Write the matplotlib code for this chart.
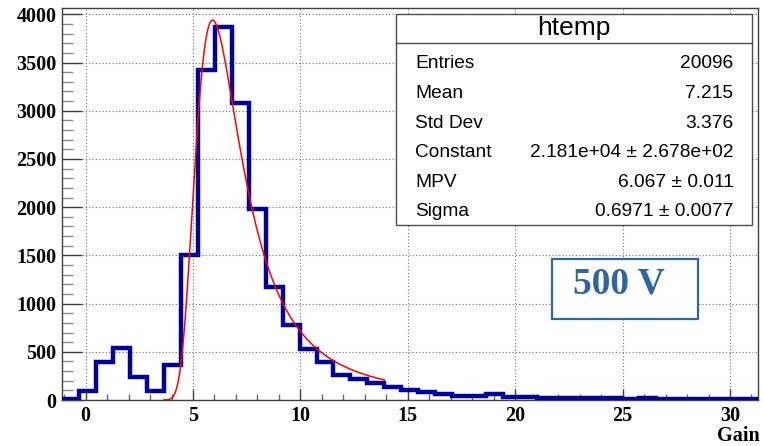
import numpy as np
import matplotlib.pyplot as plt
from matplotlib.patches import Rectangle

# gain histogram (htemp), 41 bins
x_lo = -1.1
bin_w = 0.79
counts = [10, 95, 395, 537, 236, 94, 360, 1507, 3426, 3872,
          3083, 1981, 1177, 783, 533, 398, 256, 222, 173, 138,
          100, 80, 64, 46, 42, 64, 26, 26, 22, 24,
          20, 16, 18, 12, 16, 8, 12, 6, 12, 8, 10]

# landau fit parameters
fit_const = 2.181e4
fit_mpv = 6.067
fit_sigma = 0.6971
fit_range = (3.64, 13.91)

stat_names = ['Entries', 'Mean', 'Std Dev', 'Constant', 'MPV', 'Sigma']
stat_values = ['20096', '7.215', '3.376', '2.181e+04 \u00b1 2.678e+02',
               '6.067 \u00b1 0.011', '0.6971 \u00b1 0.0077']

counts = np.array(counts, dtype=float)
edges = x_lo + bin_w * np.arange(len(counts) + 1)


def landau(lam):
    # Landau density via its integral representation
    t = np.linspace(1e-12, 50, 40001)
    out = []
    for l in np.atleast_1d(lam):
        f = np.exp(-t * np.log(t) - l * t) * np.sin(np.pi * t)
        out.append(np.trapezoid(f, t) / np.pi)
    return np.array(out)


xf = np.linspace(fit_range[0], fit_range[1], 400)
yf = fit_const * landau((xf - fit_mpv) / fit_sigma)

W, H = 763, 446
fig = plt.figure(figsize=(W / 100, H / 100), dpi=100)
ax = fig.add_axes([62 / W, 1 - 400 / H, (757.7 - 62) / W, (400 - 8) / H])

ax.stairs(counts, edges, color='#00009a', lw=3.2, zorder=3)
ax.plot(xf, yf, color='red', lw=1.1, zorder=4)

ax.set_xlim(edges[0], edges[-1])
ax.set_ylim(0, 1.05 * counts.max())
ax.set_xticks(np.arange(0, 31, 5))
ax.set_xticks(np.arange(-1, 32, 1), minor=True)
ax.set_yticks(np.arange(0, 4001, 500))
ax.set_yticks(np.arange(0, 4001, 100), minor=True)
ax.grid(True, which='major', linestyle=(0, (1, 2)), color='0.45', lw=0.8)
ax.set_axisbelow(True)

for s in ax.spines.values():
    s.set_color('0.25')
    s.set_linewidth(1.0)
ax.tick_params(axis='x', which='major', direction='in', length=8, width=1,
               color='0.25', pad=4)
ax.tick_params(axis='x', which='minor', direction='in', length=4.2, width=1,
               color='0.4')
ax.tick_params(axis='y', which='major', direction='in', length=14.4, width=1,
               color='0.25', pad=4)
ax.tick_params(axis='y', which='minor', direction='in', length=7.7, width=1,
               color='0.55')
for lab in ax.get_xticklabels() + ax.get_yticklabels():
    lab.set_fontfamily('Liberation Serif')
    lab.set_fontweight('bold')
    lab.set_fontsize(14.5)

fig.text(760 / W, 1 - 441 / H, 'Gain', ha='right', va='baseline',
         family='Liberation Serif', weight='bold', fontsize=14.5)

# stats box
bx0, bx1, by0, by1 = 396, 752, 14, 225
fig.add_artist(Rectangle((bx0 / W, 1 - by1 / H), (bx1 - bx0) / W, (by1 - by0) / H,
                         transform=fig.transFigure, facecolor='white',
                         edgecolor='0.3', lw=1.0, zorder=5))
fig.add_artist(plt.Line2D([bx0 / W, bx1 / W], [1 - 43.3 / H] * 2,
                          transform=fig.transFigure, color='0.3', lw=1.0, zorder=6))
fig.text((bx0 + bx1) / 2 / W, 1 - 35.5 / H, 'htemp', ha='center', va='baseline',
         family='Liberation Sans', fontsize=19, zorder=7)
for i, (name, val) in enumerate(zip(stat_names, stat_values)):
    yb = 1 - (68.3 + 29.6 * i) / H
    fig.text(415 / W, yb, name, ha='left', va='baseline',
             family='Liberation Sans', fontsize=13.8, zorder=7)
    fig.text(733.5 / W, yb, val, ha='right', va='baseline',
             family='Liberation Sans', fontsize=13.8, zorder=7)

# voltage label
blue = '#2f65a2'
fig.add_artist(Rectangle((551.7 / W, 1 - 319 / H), (697.7 - 551.7) / W, (319 - 259.3) / H,
                         transform=fig.transFigure, facecolor='white',
                         edgecolor=blue, lw=1.6, zorder=5))
fig.text(619 / W, 1 - 283.5 / H, '500 V', ha='center', va='center', color=blue,
         family='Liberation Serif', weight='bold', fontsize=27, zorder=7)

fig.savefig('out.png', dpi=100)
